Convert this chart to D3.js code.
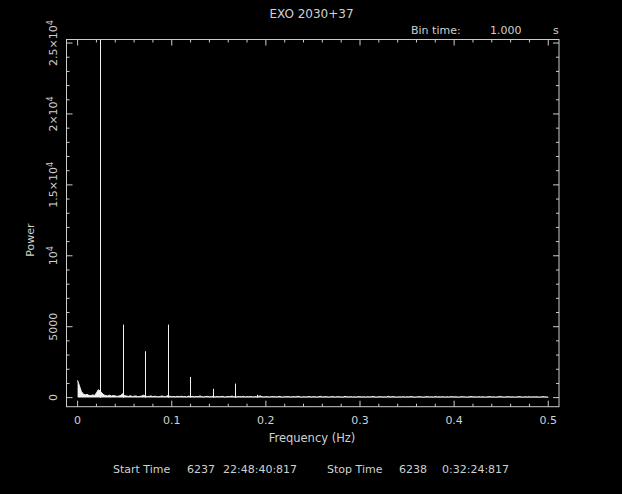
<!DOCTYPE html>
<html>
<head>
<meta charset="utf-8">
<script src="https://cdn.jsdelivr.net/npm/d3@7"></script>
<style>
  html, body { margin: 0; padding: 0; background: #000; }
  svg { display: block; }
  text { font-family: "DejaVu Sans", sans-serif; fill: #d0d0d0; }
</style>
</head>
<body>
<svg id="chart" width="622" height="494"></svg>
<script>
// Power spectrum of EXO 2030+37, 1 s bins.
const binStep = 0.002; // Hz between continuum samples

// Continuum power, one value per bin starting at 0 Hz
const continuumPower = [
  1220, 820, 430, 260, 190, 230, 160, 140, 190, 150, 330, 560, 470, 300, 190, 140, 120, 170, 110, 150, 120, 90, 110, 160, 280, 140,
  110, 90, 130, 80, 100, 120, 70, 90, 110, 170, 100, 80, 90, 120, 70, 100, 80, 60, 90, 110, 70, 80, 150, 90, 70,
  80, 60, 90, 70, 100, 60, 80, 50, 110, 70, 90, 60, 80, 70, 120, 60, 50, 80, 90, 60, 70, 100, 50, 80, 60,
  70, 90, 50, 60, 80, 70, 110, 60, 50, 70, 80, 60, 90, 50, 70, 60, 80, 50, 70, 60, 90, 120, 60, 50, 70,
  60, 50, 80, 60, 70, 50, 90, 60, 40, 70, 60, 80, 50, 60, 70, 50, 100, 60, 40, 70, 50, 60, 80, 50, 60,
  70, 40, 60, 90, 50, 60, 70, 50, 40, 80, 60, 50, 70, 60, 50, 40, 90, 60, 50, 70, 50, 60, 40, 70, 60,
  50, 60, 40, 70, 50, 60, 80, 50, 40, 60, 70, 50, 60, 40, 90, 50, 60, 70, 40, 50, 60, 50, 70, 40, 60,
  50, 80, 60, 40, 50, 70, 60, 50, 40, 60, 70, 50, 60, 40, 80, 50, 60, 50, 70, 40, 60, 50, 60, 70, 50,
  60, 40, 50, 70, 60, 50, 40, 60, 80, 50, 60, 40, 70, 50, 60, 50, 40, 60, 70, 50, 60, 40, 50, 80, 60,
  50, 40, 60, 70, 50, 60, 40, 50, 60, 70, 40, 50, 60, 50, 70, 40, 60, 50, 60, 40, 50, 70, 60, 50, 40
];

// Pulsation peaks: fundamental and harmonics
const peakFreq  = [0.0239, 0.0477, 0.0717, 0.0955, 0.1192, 0.1434, 0.1671, 0.1904];
const peakPower = [25250, 5150, 3270, 5150, 1460, 620, 990, 200];

// Axis ticks
const xMajorTicks = [0, 0.1, 0.2, 0.3, 0.4, 0.5];
const xTickLabels = ["0", "0.1", "0.2", "0.3", "0.4", "0.5"];
const yMajorTicks = [0, 5000, 10000, 15000, 20000, 25000];
const yTickLabels = [
  ["0", ""], ["5000", ""], ["10", "4"], ["1.5\u00d710", "4"], ["2\u00d710", "4"], ["2.5\u00d710", "4"]
];

const titleText = "EXO 2030+37";
const binTimeLabel = "Bin time:";
const binTimeValue = "1.000";
const binTimeUnit = "s";
const xTitle = "Frequency (Hz)";
const yTitle = "Power";
const footer = [
  ["Start Time", 113], ["6237", 187], ["22:48:40:817", 223],
  ["Stop Time", 327], ["6238", 399], ["0:32:24:817", 442]
];

const svg = d3.select("#chart");
const frame = { left: 66.5, right: 559, top: 39.5, bottom: 406.7 };

const x = d3.scaleLinear().domain([-0.0118, 0.5114]).range([frame.left, frame.right]);
const y = d3.scaleLinear().domain([-640, 25250]).range([frame.bottom, frame.top]);

const continuum = continuumPower.map((p, i) => ({ f: i * binStep, p }));
const peaks = peakFreq.map((f, i) => ({ f, p: peakPower[i] }));

svg.append("clipPath").attr("id", "plotClip")
  .append("rect")
  .attr("x", frame.left).attr("y", frame.top)
  .attr("width", frame.right - frame.left).attr("height", frame.bottom - frame.top);

const plot = svg.append("g").attr("clip-path", "url(#plotClip)");
const dataColor = "#f2f2f2";

// continuum: filled down to zero power
plot.append("path")
  .datum(continuum)
  .attr("fill", dataColor)
  .attr("d", d3.area().x(d => x(d.f)).y0(y(0)).y1(d => y(d.p)));

plot.append("path")
  .datum(continuum)
  .attr("fill", "none")
  .attr("stroke", dataColor)
  .attr("stroke-width", 1)
  .attr("d", d3.line().x(d => x(d.f)).y(d => y(d.p)));

// single-bin pulsation peaks
plot.append("g").selectAll("line").data(peaks).join("line")
  .attr("x1", d => Math.round(x(d.f)) + 0.5).attr("x2", d => Math.round(x(d.f)) + 0.5)
  .attr("y1", y(0)).attr("y2", d => y(d.p))
  .attr("stroke", dataColor).attr("stroke-width", 1);

// frame
const frameColor = "#cccccc";
svg.append("rect")
  .attr("x", frame.left).attr("y", frame.top)
  .attr("width", frame.right - frame.left).attr("height", frame.bottom - frame.top)
  .attr("fill", "none").attr("stroke", frameColor).attr("stroke-width", 1);

// inward ticks on all four sides
const xMinor = d3.range(0, 0.5001, 0.02).filter(v => !xMajorTicks.some(m => Math.abs(m - v) < 1e-9));
const yMinor = d3.range(0, 25001, 1000).filter(v => v % 5000 !== 0);
const ticks = svg.append("g").attr("stroke", frameColor).attr("stroke-width", 1);

function xTick(v, len) {
  ticks.append("line").attr("x1", x(v)).attr("x2", x(v)).attr("y1", frame.bottom).attr("y2", frame.bottom - len);
  ticks.append("line").attr("x1", x(v)).attr("x2", x(v)).attr("y1", frame.top).attr("y2", frame.top + len);
}
function yTick(v, len) {
  ticks.append("line").attr("y1", y(v)).attr("y2", y(v)).attr("x1", frame.left).attr("x2", frame.left + len);
  ticks.append("line").attr("y1", y(v)).attr("y2", y(v)).attr("x1", frame.right).attr("x2", frame.right - len);
}
xMajorTicks.forEach(v => xTick(v, 6));
xMinor.forEach(v => xTick(v, 3));
yMajorTicks.forEach(v => yTick(v, 6));
yMinor.forEach(v => yTick(v, 3));

// x tick labels
svg.append("g").selectAll("text").data(xMajorTicks).join("text")
  .attr("x", d => x(d)).attr("y", 424)
  .attr("text-anchor", "middle").attr("font-size", 11)
  .text((d, i) => xTickLabels[i]);

// y tick labels, rotated
yMajorTicks.forEach((v, i) => {
  const t = svg.append("text")
    .attr("transform", `translate(57,${y(v)}) rotate(-90)`)
    .attr("text-anchor", "middle").attr("font-size", 11);
  t.append("tspan").text(yTickLabels[i][0]);
  if (yTickLabels[i][1]) {
    t.append("tspan").attr("dy", -4).attr("font-size", 8).text(yTickLabels[i][1]);
  }
});

// titles
svg.append("text").attr("x", 311.5).attr("y", 18).attr("text-anchor", "middle")
  .attr("font-size", 12).text(titleText);
svg.append("text").attr("x", 411).attr("y", 34).attr("font-size", 11).text(binTimeLabel);
svg.append("text").attr("x", 490).attr("y", 34).attr("font-size", 11).text(binTimeValue);
svg.append("text").attr("x", 553).attr("y", 34).attr("font-size", 11).text(binTimeUnit);

svg.append("text").attr("x", 312).attr("y", 442).attr("text-anchor", "middle")
  .attr("font-size", 11.5).text(xTitle);
svg.append("text").attr("transform", "translate(34,240) rotate(-90)")
  .attr("text-anchor", "middle").attr("font-size", 11).text(yTitle);

svg.append("g").selectAll("text").data(footer).join("text")
  .attr("x", d => d[1]).attr("y", 473).attr("font-size", 11)
  .text(d => d[0]);
</script>
</body>
</html>
